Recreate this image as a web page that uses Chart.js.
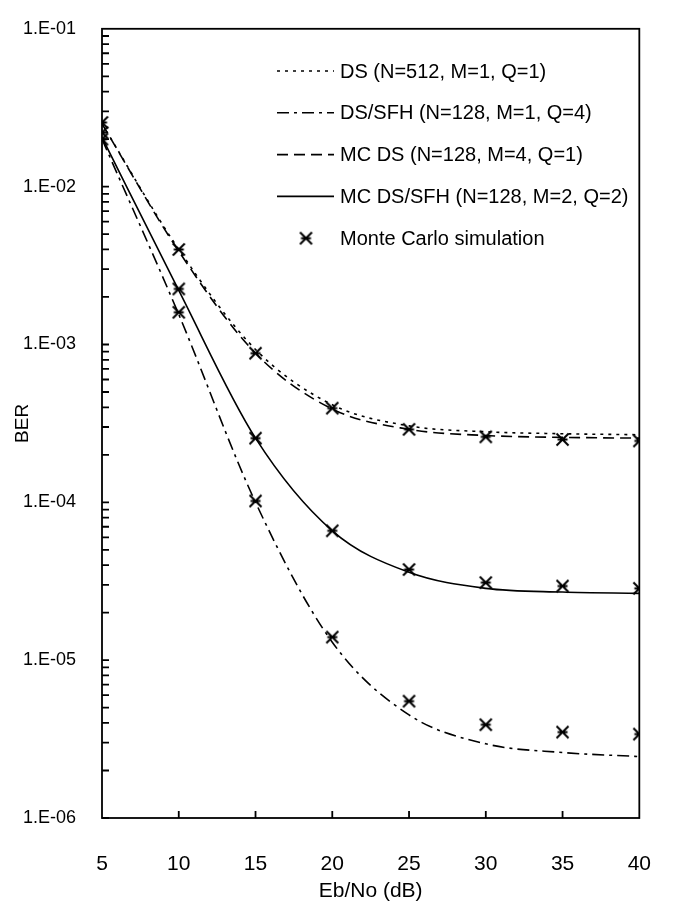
<!DOCTYPE html>
<html>
<head>
<meta charset="utf-8">
<script src="https://cdn.jsdelivr.net/npm/chart.js@4"></script>
<style>
  body { margin: 0; background: #fff; }
  #wrap { width: 677px; height: 908px; position: relative; }
</style>
</head>
<body>
<div id="wrap"><canvas id="canvas_ber"></canvas></div>
<script>
// Eb/No points (dB)
var ebNo = [5, 10, 15, 20, 25, 30, 35, 40];

// analytic curves
var berDS       = [2.5e-2, 4.0e-3, 9.3e-4, 4.15e-4, 3.05e-4, 2.8e-4, 2.72e-4, 2.68e-4];
var berDSSFH    = [2.0e-2, 1.55e-3, 1.0e-4, 1.3e-5, 4.5e-6, 2.95e-6, 2.6e-6, 2.45e-6];
var berMCDS     = [2.5e-2, 3.9e-3, 8.8e-4, 3.9e-4, 2.9e-4, 2.65e-4, 2.58e-4, 2.55e-4];
var berMCDSSFH  = [2.05e-2, 2.2e-3, 2.55e-4, 6.6e-5, 3.6e-5, 2.85e-5, 2.7e-5, 2.65e-5];

// Monte Carlo simulation points
var simUpper = [2.55e-2, 4.0e-3, 8.8e-4, 3.95e-4, 2.9e-4, 2.6e-4, 2.5e-4, 2.45e-4];
var simMid   = [2.2e-2, 2.25e-3, 2.55e-4, 6.6e-5, 3.75e-5, 3.1e-5, 2.95e-5, 2.85e-5];
var simLow   = [2.0e-2, 1.6e-3, 1.02e-4, 1.4e-5, 5.5e-6, 3.9e-6, 3.5e-6, 3.4e-6];

var xTicks = [10, 15, 20, 25, 30, 35];
var yTickValues = [1e-6, 1e-5, 1e-4, 1e-3, 1e-2, 1e-1];
var yTickLabels = ["1.E-06", "1.E-05", "1.E-04", "1.E-03", "1.E-02", "1.E-01"];

var fontFamily = '"Liberation Sans", Arial, Helvetica, sans-serif';

function toPoints(ys) {
	return ebNo.map(function(x, i) { return { x : x, y : ys[i] }; });
}

function makeStar(size) {
	var c = document.createElement('canvas');
	c.width = size;
	c.height = size;
	var g = c.getContext('2d');
	g.strokeStyle = '#000';
	g.lineWidth = 2;
	var p = 1.5, q = size - 1.5;
	g.beginPath();
	g.moveTo(p, p); g.lineTo(q, q);
	g.moveTo(q, p); g.lineTo(p, q);
	g.moveTo(p + 1, size / 2); g.lineTo(q - 1, size / 2);
	g.stroke();
	return c;
}
var star = makeStar(15);

// frame + inward ticks
var framePlugin = {
	id : 'frame',
	afterDraw : function(chart) {
		var ctx = chart.ctx, a = chart.chartArea;
		var sx = chart.scales.x, sy = chart.scales.y;
		ctx.save();
		ctx.strokeStyle = '#000';
		ctx.lineWidth = 1.8;
		ctx.setLineDash([]);
		ctx.strokeRect(a.left, a.top, a.right - a.left, a.bottom - a.top);
		ctx.beginPath();
		xTicks.forEach(function(v) {
			var px = sx.getPixelForValue(v);
			ctx.moveTo(px, a.bottom);
			ctx.lineTo(px, a.bottom - 7);
		});
		for (var e = -6; e < -1; e++) {
			for (var m = 1; m <= 9; m++) {
				var py = sy.getPixelForValue(m * Math.pow(10, e));
				ctx.moveTo(a.left, py);
				ctx.lineTo(a.left + 7, py);
			}
		}
		ctx.stroke();
		ctx.restore();
	}
};

// legend drawn inside the plot
var legendPlugin = {
	id : 'innerLegend',
	afterDatasetsDraw : function(chart) {
		var ctx = chart.ctx;
		ctx.save();
		ctx.font = '20px ' + fontFamily;
		ctx.textBaseline = 'middle';
		ctx.fillStyle = '#000';
		chart.data.datasets.forEach(function(ds, i) {
			var y = 71 + i * 41.8;
			if (ds.showLine === false) {
				ctx.drawImage(star, 306 - 7.5, y - 7.5);
			} else {
				ctx.strokeStyle = '#000';
				ctx.lineWidth = ds.borderWidth;
				ctx.setLineDash(ds.borderDash || []);
				ctx.beginPath();
				ctx.moveTo(277, y);
				ctx.lineTo(334, y);
				ctx.stroke();
			}
			ctx.fillText(ds.label, 340, y + 1);
		});
		ctx.restore();
	}
};

function lineSet(label, ys, dash) {
	return {
		label : label,
		data : toPoints(ys),
		borderColor : '#000',
		borderWidth : 1.6,
		borderDash : dash,
		pointRadius : 0,
		fill : false,
		cubicInterpolationMode : 'monotone'
	};
}

var simData = toPoints(simUpper).concat(toPoints(simMid)).concat(toPoints(simLow));

var berChart = new Chart(document.getElementById('canvas_ber'), {
	type : 'line',
	data : {
		datasets : [
			lineSet('DS (N=512, M=1, Q=1)', berDS, [3, 5]),
			lineSet('DS/SFH (N=128, M=1, Q=4)', berDSSFH, [12, 5, 3, 5]),
			lineSet('MC DS (N=128, M=4, Q=1)', berMCDS, [11, 6]),
			lineSet('MC DS/SFH (N=128, M=2, Q=2)', berMCDSSFH, []),
			{
				label : 'Monte Carlo simulation',
				data : simData,
				showLine : false,
				pointStyle : star,
				pointRadius : 7.5,
				borderColor : '#000'
			}
		]
	},
	options : {
		responsive : true,
		maintainAspectRatio : false,
		animation : false,
		layout : { padding : { top : 18, right : 25, left : 0, bottom : 0 } },
		plugins : {
			legend : { display : false },
			tooltip : { enabled : false }
		},
		scales : {
			x : {
				type : 'linear',
				min : 5,
				max : 40,
				afterFit : function(s) { s.height = 90; },
				grid : { display : false },
				border : { display : false },
				ticks : {
					stepSize : 5,
					padding : 26,
					maxRotation : 0,
					color : '#000',
					font : { size : 21, family : fontFamily }
				},
				title : {
					display : true,
					text : 'Eb/No (dB)',
					color : '#000',
					font : { size : 21, family : fontFamily },
					padding : { top : 0, bottom : 4 }
				}
			},
			y : {
				type : 'logarithmic',
				min : 1e-6,
				max : 1e-1,
				afterFit : function(s) { s.width = 102; },
				afterBuildTicks : function(s) {
					s.ticks = yTickValues.map(function(v) { return { value : v, major : true }; });
				},
				grid : { display : false },
				border : { display : false },
				ticks : {
					autoSkip : false,
					padding : 18,
					color : '#000',
					font : { size : 18, family : fontFamily },
					callback : function(value, index) { return yTickLabels[index]; }
				},
				title : {
					display : true,
					text : 'BER',
					color : '#000',
					font : { size : 19, family : fontFamily },
					padding : { top : 11, bottom : 0 }
				}
			}
		}
	},
	plugins : [ framePlugin, legendPlugin ]
});
</script>
</body>
</html>
